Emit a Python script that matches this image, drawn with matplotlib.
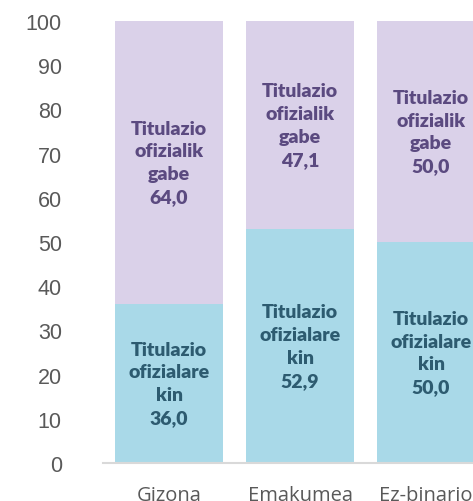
import matplotlib.pyplot as plt

categories = ['Gizona', 'Emakumea', 'Ez-binarioa']
with_title = [36.0, 52.9, 50.0]
without_title = [64.0, 47.1, 50.0]
yticks = [0, 10, 20, 30, 40, 50, 60, 70, 80, 90, 100]

purple = '#dad1e9'
teal = '#a9d9e8'
purple_txt = '#5b4a80'
teal_txt = '#2d5b70'

fig = plt.figure(figsize=(4.73, 5.02), dpi=100)
ax = fig.add_axes([0.2188, 0.0757, 0.831, 0.8805])

x = range(len(categories))
ax.bar(x, with_title, width=0.824, color=teal)
ax.bar(x, without_title, width=0.824, bottom=with_title, color=purple)

for i in x:
    ax.text(i, with_title[i] / 2, 'Titulazio\nofizialare\nkin\n%.1f' % with_title[i],
            ha='center', va='center', family='Lato', weight='heavy',
            fontsize=14, color=teal_txt, linespacing=1.42)
    ax.text(i, with_title[i] + without_title[i] / 2,
            'Titulazio\nofizialik\ngabe\n%.1f' % without_title[i],
            ha='center', va='center', family='Lato', weight='heavy',
            fontsize=14, color=purple_txt, linespacing=1.42)
for t in ax.texts:
    t.set_text(t.get_text().replace('.', ','))

ax.set_xlim(-0.5, 2.5)
ax.set_ylim(0, 100)
ax.set_yticks(yticks)
ax.set_yticklabels([str(v) for v in yticks], family='Liberation Sans',
                   fontsize=15.5, color='#595959')
ax.set_xticks(list(x))
ax.set_xticklabels(categories, family='Open Sans', fontsize=14.5, color='#595959')
ax.tick_params(axis='y', length=0, pad=30)
ax.tick_params(axis='x', length=0, pad=16)

for s in ['top', 'right', 'left']:
    ax.spines[s].set_visible(False)
ax.spines['bottom'].set_color('#d9d9d9')
ax.spines['bottom'].set_linewidth(1.5)

fig.savefig('out.png', dpi=100)
